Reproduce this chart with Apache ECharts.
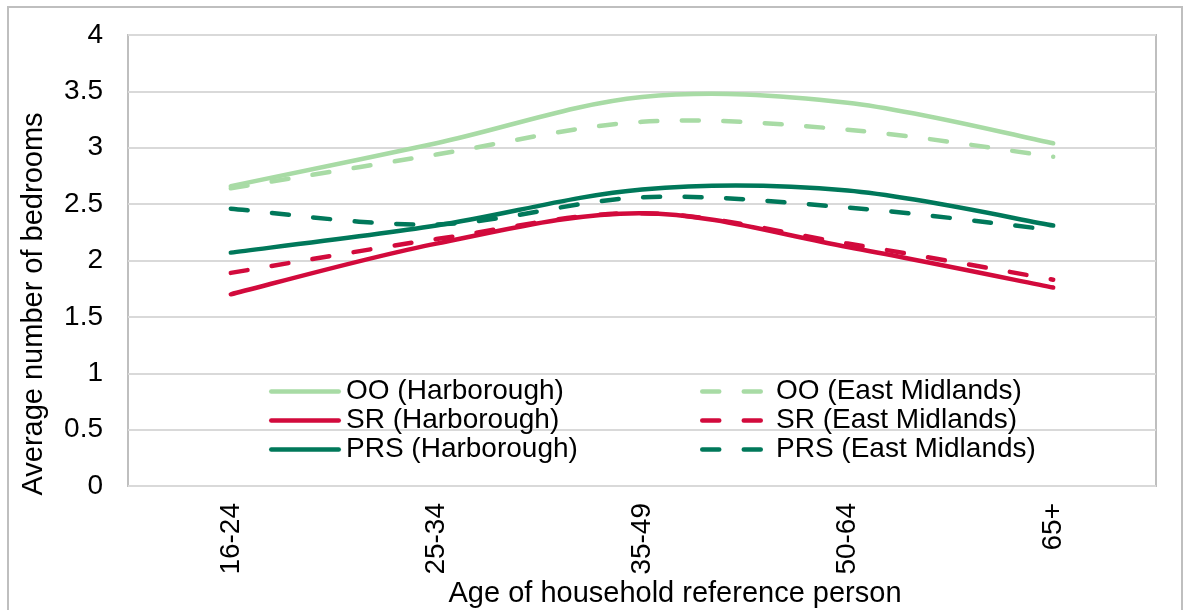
<!DOCTYPE html>
<html>
<head>
<meta charset="utf-8">
<title>Average number of bedrooms by age of household reference person</title>
<script src="https://cdn.jsdelivr.net/npm/echarts@6/dist/echarts.min.js"></script>
<style>
  html, body { margin: 0; padding: 0; background: #fff; }
  #chart { width: 1186px; height: 610px; }
</style>
</head>
<body>
<div id="chart"></div>
<script>
// Age bands of the household reference person
const ageBands = ['16-24', '25-34', '35-49', '50-64', '65+'];

// Average number of bedrooms by tenure
const ooHarborough  = [2.66, 3.04, 3.45, 3.40, 3.04];
const ooEastMid     = [2.64, 2.94, 3.23, 3.16, 2.92];
const srHarborough  = [1.70, 2.15, 2.42, 2.12, 1.76];
const srEastMid     = [1.89, 2.19, 2.42, 2.15, 1.83];
const prsHarborough = [2.07, 2.31, 2.63, 2.62, 2.31];
const prsEastMid    = [2.46, 2.32, 2.56, 2.47, 2.27];

const yTicks = { min: 0, max: 4, step: 0.5 };

const FONT = '"Liberation Sans", Arial, sans-serif';
const C_OO = '#a8dba5';
const C_SR = '#d20a3c';
const C_PRS = '#00785a';
const LINE_W = 4.5;
const DASH = [17, 24.5];

// Legend keys: a rounded bar for solid lines, two rounded dashes for dashed lines
const ICON_SOLID = 'path://M2.25,0 H69.75 A2.25,2.25 0 0 1 69.75,4.5 H2.25 A2.25,2.25 0 0 1 2.25,0 Z';
const ICON_DASHED = 'path://M2.25,0 H19.25 A2.25,2.25 0 0 1 19.25,4.5 H2.25 A2.25,2.25 0 0 1 2.25,0 Z ' +
                    'M43.75,0 H60.75 A2.25,2.25 0 0 1 60.75,4.5 H43.75 A2.25,2.25 0 0 1 43.75,0 Z';

// Smooth curve through the points: cubic Bezier segments with Catmull-Rom tangents
function smoothPath(pts) {
  const k = 1 / 6;
  let d = 'M' + pts[0][0] + ',' + pts[0][1];
  for (let i = 0; i < pts.length - 1; i++) {
    const p0 = pts[Math.max(i - 1, 0)];
    const p1 = pts[i];
    const p2 = pts[i + 1];
    const p3 = pts[Math.min(i + 2, pts.length - 1)];
    const c1x = p1[0] + (p2[0] - p0[0]) * k;
    const c1y = p1[1] + (p2[1] - p0[1]) * k;
    const c2x = p2[0] - (p3[0] - p1[0]) * k;
    const c2y = p2[1] - (p3[1] - p1[1]) * k;
    d += ' C' + c1x + ',' + c1y + ' ' + c2x + ',' + c2y + ' ' + p2[0] + ',' + p2[1];
  }
  return d;
}

function curveSeries(name, values, color, dashed) {
  return {
    name: name,
    type: 'custom',
    coordinateSystem: 'cartesian2d',
    data: values.map(function (v, i) { return [i, v]; }),
    encode: { x: 0, y: 1 },
    itemStyle: { color: color },
    renderItem: function (params, api) {
      if (params.dataIndex !== 0) return null;
      const pts = values.map(function (v, i) { return api.coord([i, v]); });
      return {
        type: 'path',
        shape: { pathData: smoothPath(pts) },
        style: {
          fill: 'none',
          stroke: color,
          lineWidth: LINE_W,
          lineDash: dashed ? DASH : null,
          lineCap: 'round',
          lineJoin: 'round'
        }
      };
    }
  };
}

const chart = echarts.init(document.getElementById('chart'), null, { renderer: 'canvas' });

const legendText = { fontFamily: FONT, fontSize: 28, color: '#000', lineHeight: 29 };

chart.setOption({
  animation: false,
  backgroundColor: '#fff',
  grid: {
    left: 128, top: 35, right: 30, bottom: 124,
    show: true, borderColor: '#bfbfbf', borderWidth: 2
  },
  legend: [
    {
      orient: 'vertical', left: 264, top: 372,
      itemWidth: 72, itemHeight: 4.5, itemGap: 0,
      symbolKeepAspect: false,
      textStyle: legendText,
      data: [
        { name: 'OO (Harborough)', icon: ICON_SOLID },
        { name: 'SR (Harborough)', icon: ICON_SOLID },
        { name: 'PRS (Harborough)', icon: ICON_SOLID }
      ]
    },
    {
      orient: 'vertical', left: 695, top: 372,
      itemWidth: 63, itemHeight: 4.5, itemGap: 0,
      symbolKeepAspect: false,
      textStyle: Object.assign({ padding: [0, 0, 0, 8] }, legendText),
      data: [
        { name: 'OO (East Midlands)', icon: ICON_DASHED },
        { name: 'SR (East Midlands)', icon: ICON_DASHED },
        { name: 'PRS (East Midlands)', icon: ICON_DASHED }
      ]
    }
  ],
  xAxis: {
    type: 'category',
    data: ageBands,
    boundaryGap: true,
    axisLine: { show: false },
    axisTick: { show: false },
    axisLabel: { rotate: 90, margin: 17, fontFamily: FONT, fontSize: 28, color: '#000' }
  },
  yAxis: {
    type: 'value',
    min: yTicks.min, max: yTicks.max, interval: yTicks.step,
    axisLine: { show: false },
    axisTick: { show: false },
    splitLine: { lineStyle: { color: '#d9d9d9', width: 2 } },
    axisLabel: { margin: 25, fontFamily: FONT, fontSize: 28, color: '#000' }
  },
  graphic: [
    {
      type: 'rect', silent: true, z: -10,
      shape: { x: 8, y: 7, width: 1174, height: 620 },
      style: { fill: 'none', stroke: '#bfbfbf', lineWidth: 2 }
    },
    {
      type: 'text', silent: true,
      x: 34, y: 304, rotation: Math.PI / 2,
      style: {
        text: 'Average number of bedrooms',
        fontFamily: FONT, fontSize: 29, fill: '#000',
        align: 'center', verticalAlign: 'middle'
      }
    },
    {
      type: 'text', silent: true,
      x: 675, y: 594,
      style: {
        text: 'Age of household reference person',
        fontFamily: FONT, fontSize: 29, fill: '#000',
        align: 'center', verticalAlign: 'middle'
      }
    }
  ],
  series: [
    curveSeries('OO (Harborough)', ooHarborough, C_OO, false),
    curveSeries('OO (East Midlands)', ooEastMid, C_OO, true),
    curveSeries('SR (Harborough)', srHarborough, C_SR, false),
    curveSeries('SR (East Midlands)', srEastMid, C_SR, true),
    curveSeries('PRS (Harborough)', prsHarborough, C_PRS, false),
    curveSeries('PRS (East Midlands)', prsEastMid, C_PRS, true)
  ]
});
</script>
</body>
</html>
